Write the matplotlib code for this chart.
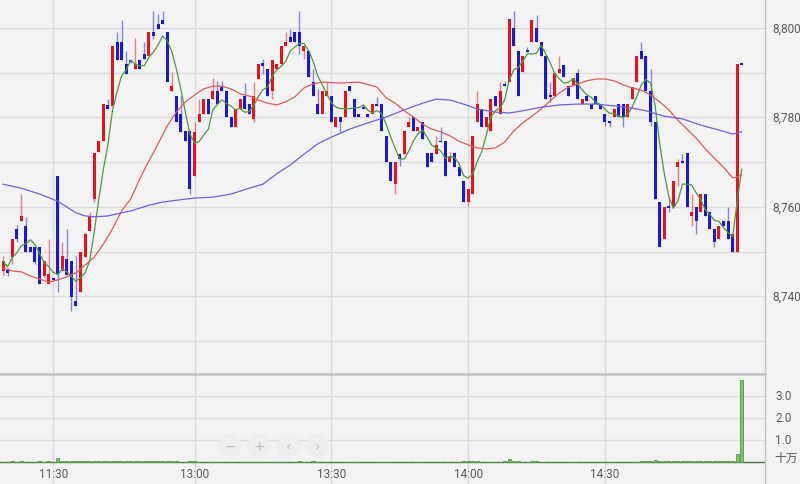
import matplotlib
matplotlib.use("Agg")
import matplotlib.pyplot as plt
import matplotlib.transforms as mtransforms
import pandas as pd

# ---------------- data ----------------
opens = [8745.7, 8745.9, 8748.8, 8755.1, 8756.9, 8755.8, 8751.1, 8751.1, 8751.1, 8744.6,
         8742.8, 8744.1, 8766.9, 8745.7, 8748.4, 8747.9, 8739.0, 8741.0, 8748.8, 8754.6,
         8761.8, 8772.3, 8774.7, 8782.8, 8782.6, 8796.9, 8796.9, 8792.0, 8792.8, 8790.8,
         8792.8, 8794.2, 8793.7, 8799.1, 8800.9, 8801.8, 8799.1, 8785.9, 8784.8, 8780.8,
         8777.0, 8777.0, 8766.9, 8779.0, 8780.8, 8784.1, 8784.1, 8785.9, 8786.8, 8785.9,
         8780.1, 8777.9, 8781.9, 8784.8, 8783.0, 8779.7, 8788.6, 8792.2, 8790.8, 8785.9,
         8790.8, 8792.0, 8796.0, 8798.0, 8799.1, 8799.1, 8794.9, 8794.9, 8787.9, 8783.0,
         8780.8, 8784.8, 8784.8, 8777.9, 8780.1, 8780.1, 8787.0, 8784.1, 8780.8, 8782.3,
         8780.8, 8780.8, 8783.0, 8783.0, 8775.9, 8770.1, 8765.1, 8771.8, 8771.8, 8777.9,
         8780.1, 8777.0, 8779.0, 8772.1, 8772.1, 8771.8, 8774.7, 8774.7, 8770.1, 8772.1,
         8768.9, 8765.8, 8761.1, 8762.9, 8779.0, 8781.9, 8777.9, 8777.0, 8784.8, 8780.8,
         8787.5, 8787.9, 8800.0, 8794.9, 8790.2, 8795.1, 8796.9, 8800.0, 8796.9, 8793.7,
         8785.0, 8784.8, 8789.9, 8791.7, 8787.0, 8787.0, 8789.9, 8783.0, 8784.8, 8783.0,
         8784.8, 8783.0, 8780.8, 8779.2, 8780.1, 8783.0, 8783.0, 8780.1, 8784.1, 8787.9,
         8794.9, 8793.7, 8785.9, 8779.0, 8761.1, 8752.8, 8760.2, 8760.0, 8768.9, 8770.1,
         8772.1, 8758.0, 8760.0, 8758.9, 8762.9, 8758.9, 8755.1, 8752.8, 8756.9, 8756.9,
         8754.0, 8749.9, 8792.0]
highs = [8749.1, 8746.4, 8752.8, 8756.0, 8762.9, 8757.8, 8751.1, 8751.1, 8751.1, 8747.9,
         8752.8, 8744.1, 8766.9, 8752.2, 8755.1, 8747.9, 8749.1, 8749.9, 8754.4, 8758.9,
         8772.1, 8774.7, 8783.0, 8784.1, 8796.0, 8799.1, 8801.8, 8794.9, 8793.1, 8797.8,
         8792.8, 8796.9, 8799.1, 8803.8, 8803.1, 8803.8, 8799.1, 8790.2, 8784.8, 8784.8,
         8777.0, 8777.0, 8779.0, 8784.1, 8784.1, 8784.1, 8788.8, 8788.2, 8788.2, 8785.9,
         8780.1, 8781.9, 8784.1, 8787.7, 8783.0, 8787.9, 8792.0, 8793.1, 8790.8, 8792.8,
         8792.0, 8796.0, 8799.1, 8799.8, 8799.1, 8803.8, 8796.0, 8794.9, 8790.8, 8786.4,
         8785.9, 8787.9, 8784.8, 8780.1, 8780.1, 8785.9, 8787.0, 8784.1, 8780.8, 8783.0,
         8780.8, 8783.0, 8784.6, 8783.0, 8775.9, 8770.1, 8770.1, 8771.8, 8777.0, 8780.1,
         8780.1, 8777.9, 8779.0, 8772.1, 8772.1, 8775.9, 8777.9, 8774.7, 8772.3, 8772.1,
         8768.9, 8765.8, 8764.0, 8775.9, 8785.9, 8781.9, 8780.1, 8784.1, 8784.8, 8787.9,
         8788.2, 8802.0, 8803.8, 8794.9, 8793.7, 8795.8, 8801.8, 8802.9, 8796.9, 8793.7,
         8787.9, 8789.9, 8793.7, 8791.7, 8787.0, 8788.8, 8790.8, 8784.1, 8784.8, 8783.0,
         8784.8, 8783.0, 8780.8, 8779.2, 8781.9, 8783.0, 8783.0, 8783.0, 8786.8, 8793.7,
         8796.9, 8793.7, 8790.8, 8779.0, 8761.1, 8760.0, 8761.8, 8765.8, 8770.7, 8771.8,
         8772.1, 8762.9, 8760.0, 8762.9, 8762.9, 8758.9, 8755.1, 8755.8, 8756.9, 8760.0,
         8754.0, 8792.0, 8792.0]
lows = [8744.6, 8744.6, 8747.3, 8752.2, 8756.9, 8749.9, 8749.9, 8747.3, 8742.8, 8744.1,
        8742.8, 8743.7, 8741.0, 8745.7, 8744.8, 8736.8, 8737.9, 8741.0, 8748.8, 8754.6,
        8761.1, 8772.3, 8774.7, 8781.9, 8782.6, 8792.8, 8792.8, 8789.7, 8792.2, 8790.8,
        8790.8, 8793.1, 8793.7, 8797.5, 8799.8, 8800.9, 8787.9, 8785.9, 8779.0, 8776.8,
        8774.7, 8762.9, 8766.9, 8779.0, 8780.8, 8780.8, 8784.1, 8783.0, 8785.9, 8780.1,
        8777.9, 8777.9, 8781.9, 8781.9, 8780.8, 8779.0, 8788.6, 8789.7, 8784.8, 8784.1,
        8790.8, 8792.0, 8796.0, 8796.9, 8796.9, 8794.2, 8793.1, 8789.1, 8784.8, 8780.8,
        8780.8, 8784.8, 8779.0, 8777.9, 8776.8, 8780.1, 8785.9, 8780.1, 8780.1, 8781.9,
        8780.1, 8780.8, 8782.6, 8777.0, 8770.1, 8765.8, 8762.9, 8769.2, 8771.8, 8777.9,
        8777.0, 8777.0, 8775.2, 8768.9, 8770.1, 8771.8, 8774.5, 8766.9, 8770.1, 8768.9,
        8766.9, 8761.1, 8760.2, 8762.9, 8779.0, 8777.9, 8777.9, 8777.0, 8782.6, 8780.8,
        8787.0, 8787.9, 8796.0, 8784.8, 8790.2, 8794.6, 8796.9, 8796.9, 8793.7, 8784.1,
        8783.5, 8784.8, 8789.9, 8789.1, 8784.8, 8787.0, 8784.1, 8783.0, 8783.7, 8781.9,
        8783.0, 8781.9, 8778.1, 8777.9, 8780.1, 8780.1, 8777.9, 8780.1, 8784.1, 8787.9,
        8793.1, 8785.9, 8778.1, 8761.8, 8751.1, 8752.8, 8758.9, 8760.0, 8764.7, 8769.9,
        8760.0, 8755.8, 8754.0, 8758.9, 8758.0, 8755.1, 8751.1, 8752.8, 8755.8, 8752.8,
        8749.9, 8749.9, 8791.8]
closes = [8747.9, 8745.3, 8752.8, 8752.8, 8758.0, 8749.9, 8749.9, 8747.7, 8742.8, 8747.9,
          8745.0, 8743.7, 8745.0, 8749.1, 8744.8, 8739.9, 8737.9, 8749.9, 8754.0, 8758.0,
          8772.1, 8774.7, 8783.0, 8781.9, 8796.0, 8792.8, 8792.8, 8789.7, 8792.4, 8792.0,
          8790.8, 8793.1, 8799.1, 8798.2, 8799.8, 8800.9, 8787.9, 8787.0, 8779.0, 8776.8,
          8774.7, 8764.0, 8776.8, 8780.8, 8784.1, 8780.8, 8785.9, 8783.0, 8785.9, 8780.1,
          8777.9, 8781.9, 8784.1, 8781.9, 8780.8, 8784.8, 8792.0, 8791.5, 8784.8, 8792.8,
          8792.0, 8796.0, 8796.9, 8796.9, 8796.9, 8796.0, 8796.0, 8789.1, 8784.8, 8780.8,
          8785.9, 8785.9, 8779.0, 8780.1, 8779.0, 8785.9, 8785.9, 8780.1, 8780.1, 8781.9,
          8780.1, 8783.0, 8782.6, 8777.0, 8770.1, 8765.8, 8770.1, 8770.7, 8777.0, 8779.0,
          8777.0, 8777.9, 8775.2, 8768.9, 8770.1, 8773.9, 8774.5, 8766.9, 8771.2, 8768.9,
          8766.9, 8761.1, 8764.0, 8775.9, 8783.0, 8777.9, 8780.1, 8784.1, 8782.6, 8785.9,
          8787.0, 8802.0, 8796.0, 8784.8, 8793.7, 8794.6, 8801.8, 8796.9, 8793.7, 8784.1,
          8784.6, 8789.9, 8790.8, 8789.1, 8784.8, 8788.8, 8784.1, 8784.1, 8783.7, 8781.9,
          8783.0, 8781.9, 8779.0, 8778.8, 8781.9, 8780.1, 8780.1, 8783.0, 8786.8, 8793.7,
          8793.1, 8785.9, 8779.0, 8761.8, 8751.1, 8760.0, 8759.8, 8765.8, 8770.1, 8769.9,
          8760.0, 8758.9, 8756.9, 8762.9, 8758.0, 8755.1, 8752.2, 8755.8, 8755.8, 8752.8,
          8749.9, 8792.0, 8791.8]
volume = [0.02, 0.02, 0.03, 0.02, 0.03, 0.02, 0.02, 0.02, 0.03, 0.02,
          0.03, 0.02, 0.18, 0.05, 0.04, 0.05, 0.04, 0.03, 0.03, 0.03,
          0.05, 0.03, 0.04, 0.03, 0.06, 0.04, 0.06, 0.05, 0.03, 0.03,
          0.04, 0.03, 0.04, 0.04, 0.03, 0.03, 0.04, 0.03, 0.03, 0.02,
          0.02, 0.03, 0.03, 0.02, 0.02, 0.02, 0.02, 0.02, 0.02, 0.02,
          0.02, 0.02, 0.02, 0.02, 0.02, 0.02, 0.02, 0.02, 0.02, 0.02,
          0.02, 0.02, 0.02, 0.02, 0.02, 0.05, 0.02, 0.02, 0.05, 0.02,
          0.02, 0.02, 0.02, 0.02, 0.02, 0.02, 0.02, 0.02, 0.02, 0.02,
          0.02, 0.02, 0.02, 0.02, 0.02, 0.02, 0.02, 0.02, 0.02, 0.02,
          0.02, 0.02, 0.02, 0.02, 0.02, 0.02, 0.02, 0.02, 0.02, 0.02,
          0.02, 0.03, 0.04, 0.05, 0.03, 0.02, 0.02, 0.02, 0.02, 0.02,
          0.03, 0.15, 0.05, 0.03, 0.02, 0.02, 0.03, 0.04, 0.02, 0.02,
          0.02, 0.02, 0.02, 0.02, 0.02, 0.02, 0.02, 0.02, 0.02, 0.02,
          0.02, 0.02, 0.02, 0.02, 0.02, 0.02, 0.02, 0.02, 0.02, 0.02,
          0.03, 0.03, 0.04, 0.08, 0.05, 0.03, 0.03, 0.03, 0.03, 0.03,
          0.03, 0.03, 0.03, 0.03, 0.03, 0.03, 0.03, 0.04, 0.04, 0.05,
          0.06, 0.36, 3.73]

# medium (red) and long (blue) moving averages
ma_mid_idx = [0, 2, 4, 6, 8, 10, 12, 14, 16, 18, 20, 22, 24, 26, 28, 30, 32, 34, 36, 38,
              40, 42, 44, 46, 48, 50, 52, 54, 56, 58, 60, 62, 64, 66, 68, 70, 74, 78, 82, 84,
              86, 88, 90, 92, 94, 96, 98, 100, 102, 104, 106, 108, 110, 112, 114, 116, 118, 120,
              122, 124, 126, 128, 130, 132, 134, 136, 138, 140, 142, 144, 146, 148, 150, 152,
              154, 156, 158, 160, 161, 162]
ma_mid_val = [8746.4, 8745.7, 8745.5, 8744.6, 8743.9, 8743.2, 8743.7, 8744.4, 8745.3, 8747.0,
              8748.8, 8751.7, 8755.1, 8759.1, 8761.8, 8766.3, 8770.3, 8774.1, 8778.1, 8781.2,
              8783.5, 8785.0, 8786.4, 8787.0, 8787.0, 8786.4, 8785.3, 8784.8, 8783.9, 8783.2,
              8782.8, 8783.5, 8784.6, 8786.6, 8787.5, 8787.9, 8787.7, 8787.9, 8786.8, 8784.4,
              8783.2, 8781.5, 8780.1, 8778.5, 8777.4, 8776.8, 8775.9, 8774.7, 8773.9, 8773.2,
              8773.0, 8773.2, 8774.5, 8777.0, 8778.8, 8780.3, 8781.9, 8783.7, 8785.5, 8786.8,
              8787.5, 8788.2, 8788.6, 8788.6, 8788.2, 8787.3, 8786.6, 8786.1, 8785.0, 8783.5,
              8781.7, 8779.4, 8777.4, 8775.4, 8773.0, 8770.9, 8768.9, 8766.5, 8766.7, 8767.2]
ma_long_idx = [0, 4, 8, 12, 14, 16, 18, 20, 23, 26, 28, 32, 35, 38, 42, 46, 50, 54, 57, 60,
               63, 66, 69, 72, 76, 80, 84, 88, 92, 95, 98, 101, 104, 108, 111, 114, 118, 122,
               126, 130, 134, 138, 141, 145, 149, 153, 157, 160, 162]
ma_long_val = [8765.1, 8764.2, 8762.9, 8761.3, 8760.0, 8758.7, 8758.0, 8757.8, 8758.0, 8758.7,
               8759.1, 8760.4, 8761.1, 8761.5, 8762.0, 8762.2, 8762.9, 8764.2, 8765.1, 8767.4,
               8769.4, 8771.8, 8774.1, 8775.6, 8777.4, 8778.8, 8780.1, 8781.7, 8783.2, 8784.1,
               8783.9, 8783.0, 8781.9, 8781.2, 8781.0, 8781.5, 8782.3, 8782.8, 8783.0, 8783.0,
               8782.6, 8782.1, 8781.5, 8780.3, 8779.7, 8778.3, 8777.2, 8776.3, 8776.8]

time_labels = ["11:30", "13:00", "13:30", "14:00", "14:30"]
time_label_idx = [11, 42, 72, 102, 132]
price_ticks = [8740, 8760, 8780, 8800]
price_grid = [8730, 8740, 8750, 8760, 8770, 8780, 8790, 8800]
vol_ticks = [1.0, 2.0, 3.0]

# ---------------- figure ----------------
BG = "#f3f3f3"
GRID = "#dcdcdc"
UP = "#e8121a"
DOWN = "#1a1acc"
TXT = "#5a5a5a"
FONT = "Roboto"

fig = plt.figure(figsize=(8.0, 4.85), dpi=100, facecolor=BG)
W, H = 800.0, 485.0
ax = fig.add_axes([0, 110 / H, 765 / W, 375 / H])
axv = fig.add_axes([0, 0, 765 / W, 110 / H])

for a in (ax, axv):
    a.set_facecolor(BG)
    for s in ("left", "top", "bottom"):
        a.spines[s].set_visible(False)
    a.spines["right"].set_color("#c4c4c4")
    a.spines["right"].set_linewidth(1)
    a.set_xticks([])
    a.set_yticks([])
    a.set_xlim(-0.66, 167.1)

axv.spines["top"].set_visible(True)
axv.spines["top"].set_color("#c6c6c6")
axv.spines["top"].set_linewidth(2)

ax.set_ylim(8722.68, 8806.48)
axv.set_ylim(-1.0, 4.0)

for p in price_grid:
    ax.axhline(p, color=GRID, lw=1, zorder=0)
for v in vol_ticks:
    axv.axhline(v, color=GRID, lw=1, zorder=0)
for t in time_label_idx:
    ax.axvline(t, color=GRID, lw=1, zorder=0)
    axv.axvline(t, color=GRID, lw=1, zorder=0)

# candles
n = len(closes)
xs = list(range(n))
colors = [UP if c >= o else DOWN for o, c in zip(opens, closes)]
ax.vlines(xs, lows, highs, colors=colors, lw=1.0, alpha=0.5, zorder=2)
bottoms = [min(o, c) for o, c in zip(opens, closes)]
heights = [max(abs(c - o), 0.3) for o, c in zip(opens, closes)]
ax.bar(xs, heights, bottom=bottoms, width=0.66, color=colors, linewidth=0, zorder=3)

# moving averages
ma_short = pd.Series(closes).rolling(5, min_periods=1).mean()
ax.plot(xs, ma_short, color="#4b9a3e", lw=0.9, zorder=4)
ax.plot(ma_mid_idx, ma_mid_val, color="#e05a5a", lw=0.9, zorder=4)
ax.plot(ma_long_idx, ma_long_val, color="#6a62e0", lw=0.9, zorder=4)

# volume
axv.axhline(0, color="#4d6a45", lw=1.0, zorder=2)
axv.bar(xs, volume, width=0.7, color="#80c46c", edgecolor="#4f9e40", linewidth=0.6, zorder=3)

# right-side labels
tr = mtransforms.blended_transform_factory(ax.transAxes, ax.transData)
for p in price_ticks:
    ax.text(772 / 765, p, f"{p:,}", transform=tr, ha="left", va="center",
            fontsize=8.5, color=TXT, family=FONT, clip_on=False)
trv = mtransforms.blended_transform_factory(axv.transAxes, axv.transData)
for v in vol_ticks:
    axv.text(775 / 765, v, f"{v:.1f}", transform=trv, ha="left", va="center",
             fontsize=8.5, color=TXT, family=FONT, clip_on=False)
axv.text(774 / 765, 0.23, "十万", transform=trv, ha="left", va="center",
         fontsize=8.5, color=TXT, family=["Noto Sans CJK JP", "DejaVu Sans"], clip_on=False)

# time labels
for t, lab in zip(time_label_idx, time_labels):
    axv.text(t, -0.545, lab, ha="center", va="center", fontsize=8.5,
             color=TXT, family=FONT)

# faint navigation controls
for sym, px in zip(["−", "+", "‹", "›"], [230, 259, 289, 317]):
    fig.text(px / W, 1 - 447 / H, sym, ha="center", va="center", fontsize=10,
             color="#c2c2c2", family="DejaVu Sans",
             bbox=dict(boxstyle="circle,pad=0.35", fc="#eeeeee", ec="none"))

fig.savefig("out.png", dpi=100, facecolor=BG)
